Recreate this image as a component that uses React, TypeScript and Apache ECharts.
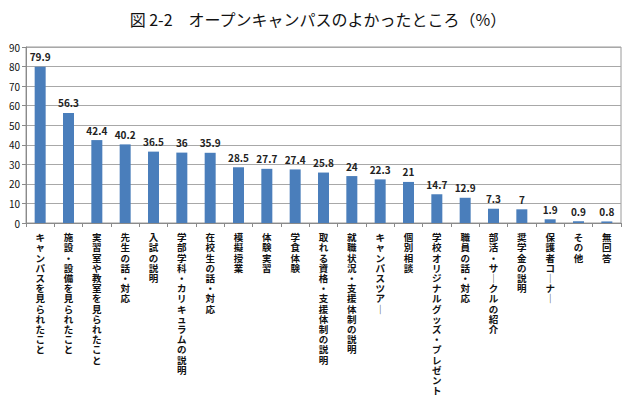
import React, { useEffect, useRef } from "react";
import * as echarts from "echarts";

const categories: string[] = [
  "キャンパスを見られたこと",
  "施設・設備を見られたこと",
  "実習室や教室を見られたこと",
  "先生の話・対応",
  "入試の説明",
  "学部学科・カリキュラムの説明",
  "在校生の話・対応",
  "模擬授業",
  "体験実習",
  "学食体験",
  "取れる資格・支援体制の説明",
  "就職状況・支援体制の説明",
  "キャンパスツアー",
  "個別相談",
  "学校オリジナルグッズ・プレゼント",
  "職員の話・対応",
  "部活・サークルの紹介",
  "奨学金の説明",
  "保護者コーナー",
  "その他",
  "無回答",
];

const values: number[] = [
  79.9, 56.3, 42.4, 40.2, 36.5, 36, 35.9, 28.5, 27.7, 27.4, 25.8, 24, 22.3, 21,
  14.7, 12.9, 7.3, 7, 1.9, 0.9, 0.8,
];

const titleText = "図 2-2　オープンキャンパスのよかったところ（%）";

const FONT = "'Noto Sans CJK JP', 'Noto Sans', sans-serif";

// Stack characters one per line so category names read top-to-bottom;
// the long vowel mark turns into a vertical stroke in vertical writing.
const toVertical = (s: string) =>
  s
    .replace(/ー/g, "│")
    .split("")
    .join("\n");

export default function App() {
  const ref = useRef<HTMLDivElement>(null);

  useEffect(() => {
    if (!ref.current) return;
    const chart = echarts.init(ref.current, undefined, { renderer: "svg" });
    chart.setOption({
      animation: false,
      backgroundColor: "#ffffff",
      title: {
        text: titleText,
        left: "center",
        top: 6,
        textStyle: {
          fontFamily: FONT,
          fontSize: 16,
          fontWeight: "normal",
          color: "#111",
        },
      },
      grid: {
        left: 26,
        right: 15,
        top: 47,
        bottom: 189,
        show: true,
        borderColor: "#9a9a9a",
        borderWidth: 1,
      },
      xAxis: {
        type: "category",
        data: categories,
        axisLine: { lineStyle: { color: "#8a8a8a" } },
        axisTick: { show: true, length: 4, lineStyle: { color: "#8a8a8a" } },
        axisLabel: {
          interval: 0,
          margin: 9,
          formatter: (v: string) => toVertical(v),
          fontFamily: FONT,
          fontSize: 9.5,
          fontWeight: "bold",
          lineHeight: 10.2,
          color: "#111",
          verticalAlign: "top",
        },
      },
      yAxis: {
        type: "value",
        min: 0,
        max: 90,
        interval: 10,
        axisLine: { show: true, lineStyle: { color: "#8a8a8a" } },
        axisTick: { show: true, length: 4, lineStyle: { color: "#8a8a8a" } },
        axisLabel: {
          fontFamily: FONT,
          fontSize: 10,
          color: "#111",
          margin: 6,
        },
        splitLine: { lineStyle: { color: "#a8a8a8", width: 1 } },
      },
      series: [
        {
          type: "bar",
          data: values,
          barWidth: 11,
          itemStyle: { color: "#4a7ebb" },
          label: {
            show: true,
            position: "top",
            distance: 5,
            fontFamily: FONT,
            fontSize: 10,
            fontWeight: "bold",
            color: "#222",
            formatter: (p: any) => String(p.value),
          },
        },
      ],
    });
    return () => chart.dispose();
  }, []);

  return <div ref={ref} style={{ width: 636, height: 412, margin: -8 }} />;
}
